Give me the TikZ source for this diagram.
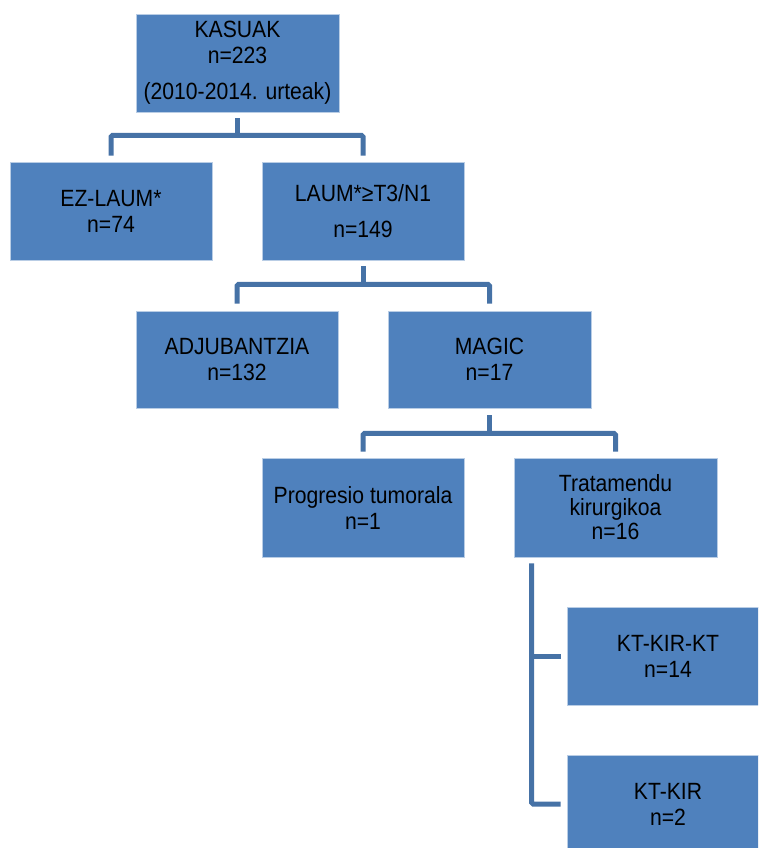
\documentclass[tikz,border=0pt]{standalone}
\usepackage{fontspec}
\setmainfont{Liberation Sans}[FakeStretch=0.9]
\definecolor{boxfill}{RGB}{79,129,189}
\definecolor{boxline}{RGB}{185,205,229}
\definecolor{connline}{RGB}{70,114,166}
\begin{document}
\begin{tikzpicture}[x=1pt,y=-1pt,
  box/.style={rectangle,fill=boxfill,draw=boxline,line width=0.8pt,
    minimum width=202pt,minimum height=98pt,inner sep=0pt,
    align=center,font=\fontsize{23.5}{26}\selectfont,text=black},
  conn/.style={draw=connline,line width=5pt,rounded corners=1.5pt}]
\useasboundingbox (0,0) rectangle (758,848);
\begin{scope}
\clip (0,0) rectangle (758,848);
\node[box,minimum width=203pt] (kas) at (237.5,63) {KASUAK\\n=223\\[10pt](2010-2014. urteak)};
\node[box] (ez) at (111,211) {EZ-LAUM*\\n=74};
\node[box] (laum) at (363,211) {LAUM*≥T3/N1\\[10pt]n=149};
\node[box,minimum height=97pt] (adj) at (237,359.5) {ADJUBANTZIA\\n=132};
\node[box,minimum width=203pt,minimum height=97pt] (magic) at (489.5,359.5) {MAGIC\\n=17};
\node[box,minimum height=99pt] (prog) at (363,507.5) {Progresio tumorala\\n=1};
\node[box,minimum width=203pt,minimum height=99pt] (trat) at (615.5,507.5) {Tratamendu\\[-2pt]kirurgikoa\\[-2pt]n=16};
\node[box] (kt1) at (668,656) {KT-KIR-KT\\n=14};
\node[box] (kt2) at (668,804) {KT-KIR\\n=2};
\end{scope}
% level 1
\coordinate (j1) at ([yshift=-23pt]kas.south);
\draw[conn] ([yshift=-6pt]kas.south) -- (j1);
\draw[conn] ([yshift=6pt]ez.north) |- (j1) -| ([yshift=6pt]laum.north);
% level 2
\coordinate (j2) at ([yshift=-24pt]laum.south);
\draw[conn] ([yshift=-6pt]laum.south) -- (j2);
\draw[conn] ([yshift=7pt]adj.north) |- (j2) -| ([yshift=7pt]magic.north);
% level 3
\coordinate (j3) at ([yshift=-25pt]magic.south);
\draw[conn] ([yshift=-7pt]magic.south) -- (j3);
\draw[conn] ([yshift=6pt]prog.north) |- (j3) -| ([yshift=6pt]trat.north);
% level 4
\coordinate (v0) at ([xshift=18pt,yshift=-6pt]trat.south west);
\draw[conn] (v0) |- ([xshift=-6pt]kt2.west);
\draw[conn] (v0 |- kt1.west) -- ([xshift=-6pt]kt1.west);
\end{tikzpicture}
\end{document}
